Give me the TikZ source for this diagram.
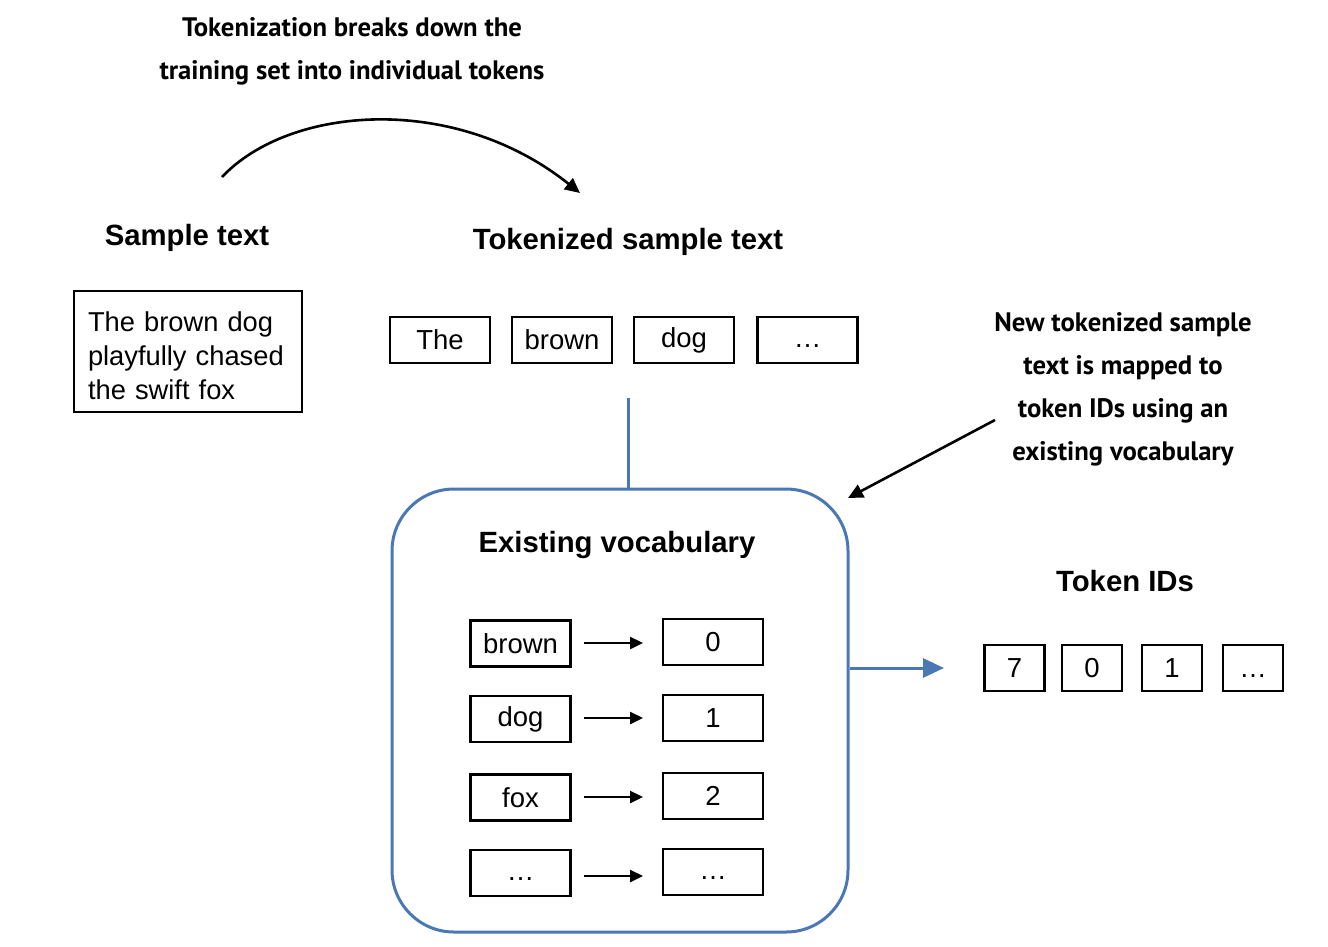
\documentclass[tikz,border=0pt]{standalone}
\usepackage{fontspec}
\setmainfont{Liberation Sans}
\newfontfamily\annfont{PT Sans}
\usetikzlibrary{arrows.meta}
\definecolor{vblue}{RGB}{74,120,180}
\begin{document}
\begin{tikzpicture}[x=1pt,y=-1pt,
  tok/.style={draw=black, line width=2.6pt, minimum width=100pt, minimum height=46pt, inner sep=0pt, font=\fontsize{27.5}{32}\selectfont},
  idbox/.style={tok, minimum width=60pt},
  head/.style={font=\fontsize{29.3}{34}\selectfont\bfseries, inner sep=0pt},
  ann/.style={font=\annfont\fontsize{26.7}{43}\selectfont\bfseries, align=center, inner sep=0pt},
  blk/.style={line width=2.6pt, -{Triangle[length=15pt,width=14pt]}},
  small/.style={line width=2.4pt, -{Triangle[length=13pt,width=12pt]}}
]
\useasboundingbox (0,0) rectangle (1328,946);
\fill[white] (0,0) rectangle (1328,946);

% top annotation
\node[ann] (ttl) at (352,51) {Tokenization breaks down the\\training set into individual tokens};
\coordinate (cs) at (222,177);
\coordinate (ce) at (580,193);
\draw[blk] (cs) .. controls (290,105) and (455,93) .. (ce);

% sample text
\node[head] (sth) at (187,238) {Sample text};
\node[draw=black, line width=2.6pt, minimum width=228pt, minimum height=121pt, inner sep=0pt] (sample) at (188,351.5) {};
\node[text width=200pt, inner sep=0pt, align=left, font=\fontsize{27.3}{34}\selectfont] (stxt) at (188,356) {The brown dog\\playfully chased\\the swift fox};

% tokenized
\node[head] (tkh) at (628,242) {Tokenized sample text};
\node[tok] (t1) at (440,340) {The};
\node[tok] (t2) at (562,340) {brown};
\node[tok] (t3) at (684,340) {dog};
\node[tok] (t4) at (807.5,340) {\vphantom{o}\dots};

% vocabulary box
\node[draw=vblue, line width=3pt, rounded corners=62pt, minimum width=456pt, minimum height=443pt, inner sep=0pt] (vocab) at (620,710.5) {};
\coordinate (vl) at (628,398);
\draw[vblue, line width=3pt] (vl) -- (vl |- vocab.north);
\node[head] (vh) at (617,545) {Existing vocabulary};

\node[tok] (w1) at (520.5,643.5) {brown};
\node[tok] (w2) at (520.5,719) {dog};
\node[tok] (w3) at (520.5,797.5) {fox};
\node[tok] (w4) at (520.5,873) {\vphantom{o}\dots};
\node[tok] (n1) at (713,642) {0};
\node[tok] (n2) at (713,718) {1};
\node[tok] (n3) at (713,796) {2};
\node[tok] (n4) at (713,872) {\vphantom{o}\dots};
\coordinate (a1) at (643,643);
\coordinate (a2) at (643,718);
\coordinate (a3) at (643,797);
\coordinate (a4) at (643,876);
\draw[small] (a1 -| 584,0) -- (a1);
\draw[small] (a2 -| 584,0) -- (a2);
\draw[small] (a3 -| 584,0) -- (a3);
\draw[small] (a4 -| 584,0) -- (a4);

% right annotation
\node[ann] (ra) at (1123,389) {New tokenized sample\\text is mapped to\\token IDs using an\\existing vocabulary};
\coordinate (rs) at (995,420);
\coordinate (re) at (848,498);
\draw[blk] (rs) -- (re);

% token IDs
\node[head] (idh) at (1125,581) {Token IDs};
\node[idbox] (i1) at (1014.5,668) {7};
\node[idbox] (i2) at (1092,668) {0};
\node[idbox] (i3) at (1172,668) {1};
\node[idbox] (i4) at (1253,668) {\vphantom{0}\dots};
\coordinate (ba) at (944,668);
\draw[vblue, line width=3pt, -{Triangle[length=21pt,width=19pt]}] (ba -| vocab.east) -- (ba);
\end{tikzpicture}
\end{document}
